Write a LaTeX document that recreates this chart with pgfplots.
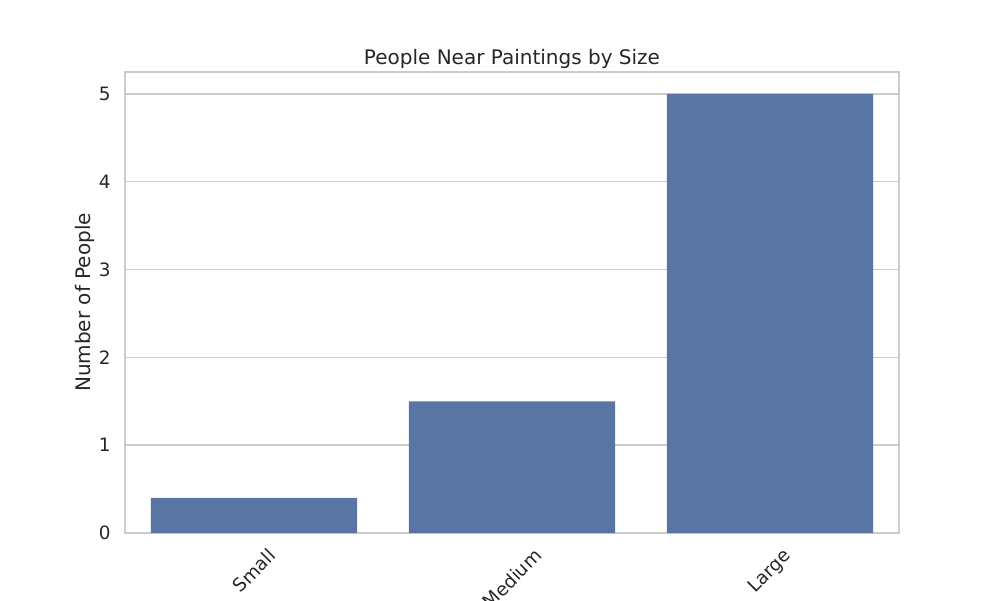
\documentclass[border=0pt]{standalone}
\usepackage{fontspec}
\setmainfont{DejaVu Sans}
\usepackage{graphicx}
\usepackage{pgfplots}
\pgfplotsset{compat=1.18}
\definecolor{barblue}{HTML}{5875A4}
\definecolor{gridgray}{HTML}{CCCCCC}
\definecolor{txt}{HTML}{262626}
\begin{document}
\begin{tikzpicture}
    % page = 1000x600 px at 0.5pt per px, axis origin at px (125,533)
    \path[use as bounding box] (-62.5pt,-33.5pt) rectangle (437.5pt,266.5pt);
    \clip (-62.5pt,-33.5pt) rectangle (437.5pt,266.5pt);
    \begin{axis}[
        scale only axis,
        width=387pt, height=230.5pt,
        xmin=-0.5, xmax=2.5,
        ymin=0, ymax=5.25,
        clip=false,
        ybar, bar width=0.8,
        xtick={0,1,2},
        xticklabels={\rotatebox{45}{Small},\rotatebox{45}{Medium},\rotatebox{45}{Large}},
        ytick={0,1,2,3,4,5},
        major tick length=0pt,
        axis line style={gridgray, line width=0.85pt},
        ymajorgrids,
        major grid style={gridgray, line width=0.7pt},
        tick label style={font=\fontsize{9.2pt}{11pt}\selectfont, text=txt},
        /pgf/number format/assume math mode=true,
        xticklabel style={anchor=north, inner sep=0pt, yshift=-7pt},
        yticklabel style={anchor=east, inner sep=0pt, xshift=-7pt},
        ylabel={Number of People},
        every axis y label/.style={at={(rel axis cs:0,0.5)}, xshift=-20pt, rotate=90, anchor=center, font=\fontsize{10pt}{12pt}\selectfont, text=txt},
    ]
        \addplot[fill=barblue, draw=none] coordinates {
            (0,0.4)
            (1,1.5)
            (2,5)
        };
        \node[anchor=base, font=\fontsize{10pt}{12pt}\selectfont, text=txt] at (rel axis cs:0.5,1) [yshift=4pt] {People Near Paintings by Size};
    \end{axis}
\end{tikzpicture}
\end{document}
